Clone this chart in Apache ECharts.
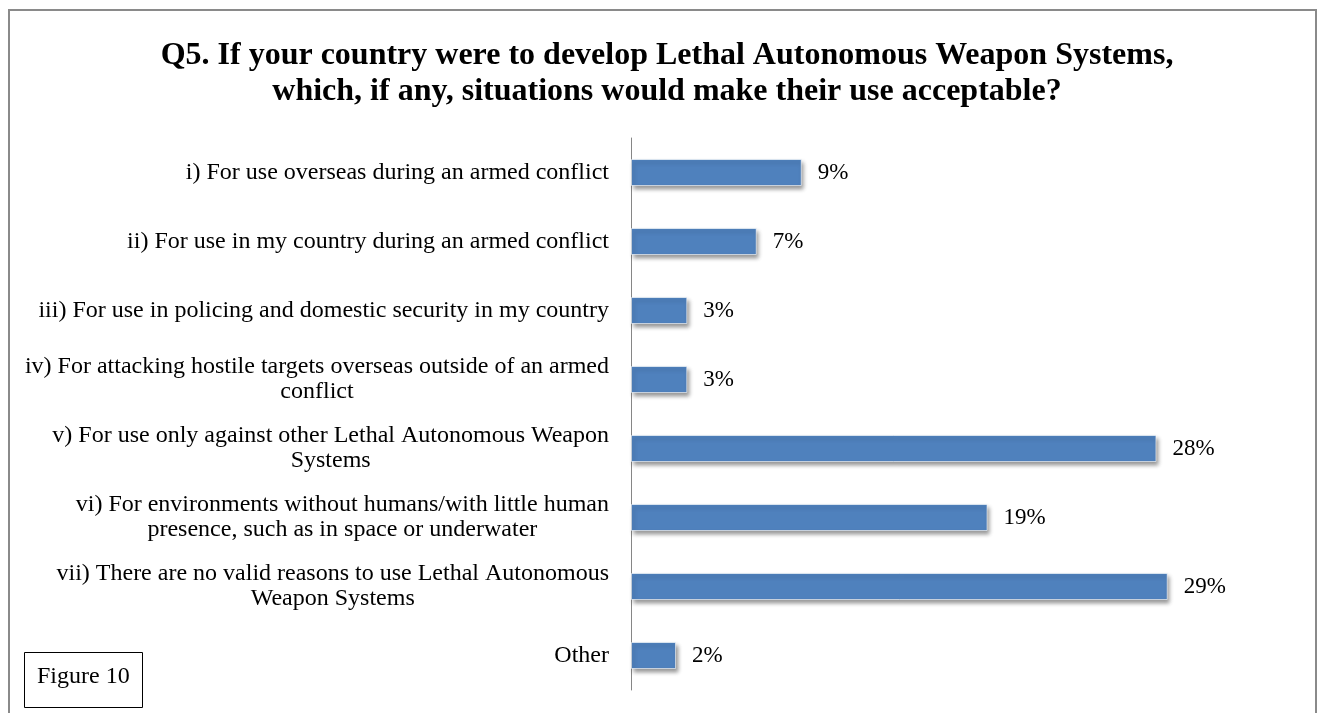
<!DOCTYPE html>
<html>
<head>
<meta charset="utf-8">
<script src="https://cdn.jsdelivr.net/npm/echarts@6/dist/echarts.min.js"></script>
<style>
  html, body { margin: 0; padding: 0; background: #fff; }
  #chart { width: 1321px; height: 713px; }
</style>
</head>
<body>
<div id="chart"></div>
<script>
// categories, top to bottom (\n marks where the label wraps)
var categories = [
  'i) For use overseas during an armed conflict',
  'ii) For use in my country during an armed conflict',
  'iii) For use in policing and domestic security in my country',
  'iv) For attacking hostile targets overseas outside of an armed\nconflict',
  'v) For use only against other Lethal Autonomous Weapon\nSystems',
  'vi) For environments without humans/with little human\npresence, such as in space or underwater',
  'vii) There are no valid reasons to use Lethal Autonomous\nWeapon Systems',
  'Other'
]
// share of respondents, %
var values = [9.1, 6.7, 3.0, 3.0, 28.0, 19.0, 28.6, 2.4]

var serif = '"Liberation Serif", "Times New Roman", serif'

var myChart = echarts.init(document.getElementById('chart'))
myChart.setOption({
  backgroundColor: '#fff',
  animation: false,
  title: {
    text: 'Q5. If your country were to develop Lethal Autonomous Weapon Systems,\nwhich, if any, situations would make their use acceptable?',
    left: 662,
    textAlign: 'center',
    top: 33,
    textStyle: {
      fontFamily: serif,
      fontSize: 32,
      fontWeight: 'bold',
      color: '#000',
      lineHeight: 36
    }
  },
  grid: {
    left: 631,
    right: 127,
    top: 138,
    bottom: 23,
    containLabel: false
  },
  xAxis: {
    type: 'value',
    min: 0,
    max: 30,
    show: false
  },
  yAxis: {
    type: 'category',
    inverse: true,
    data: categories,
    axisLine: { show: true, lineStyle: { color: '#868686', width: 1 } },
    axisTick: { show: false },
    axisLabel: {
      margin: 22,
      align: 'right',
      fontFamily: serif,
      fontSize: 24,
      color: '#000',
      lineHeight: 25,
      // first line right aligned, wrapped lines centred under it
      formatter: function (v) {
        var lines = v.split('\n')
        return lines.map(function (l, i) {
          return (i === 0 ? '{r|' : '{c|') + l + '}'
        }).join('\n')
      },
      rich: {
        r: { align: 'right', fontFamily: serif, fontSize: 24, color: '#000', lineHeight: 25 },
        c: { align: 'center', fontFamily: serif, fontSize: 24, color: '#000', lineHeight: 25 }
      }
    }
  },
  series: [
    {
      type: 'bar',
      data: values,
      barWidth: 27,
      itemStyle: {
        color: '#4F81BD',
        borderColor: 'rgba(255,255,255,0.6)',
        borderWidth: 1,
        shadowColor: 'rgba(0,0,0,0.4)',
        shadowBlur: 4,
        shadowOffsetX: 2,
        shadowOffsetY: 3
      },
      label: {
        show: true,
        position: 'right',
        distance: 16,
        fontFamily: serif,
        fontSize: 23,
        color: '#000',
        formatter: function (p) {
          return Math.round(p.value) + '%'
        }
      }
    }
  ],
  graphic: [
    {
      type: 'rect',
      shape: { x: 9, y: 10, width: 1307, height: 720 },
      style: { fill: 'none', stroke: '#8a8a8a', lineWidth: 2 },
      silent: true
    },
    {
      type: 'rect',
      shape: { x: 24.5, y: 652.5, width: 118, height: 55 },
      style: { fill: '#fff', stroke: '#000', lineWidth: 1 },
      silent: true
    },
    {
      type: 'text',
      left: 37,
      top: 665,
      style: { text: 'Figure 10', fontFamily: serif, fontSize: 24, fill: '#000' }
    }
  ]
})

window.addEventListener('resize', function () {
  myChart.resize()
})
</script>
</body>
</html>
